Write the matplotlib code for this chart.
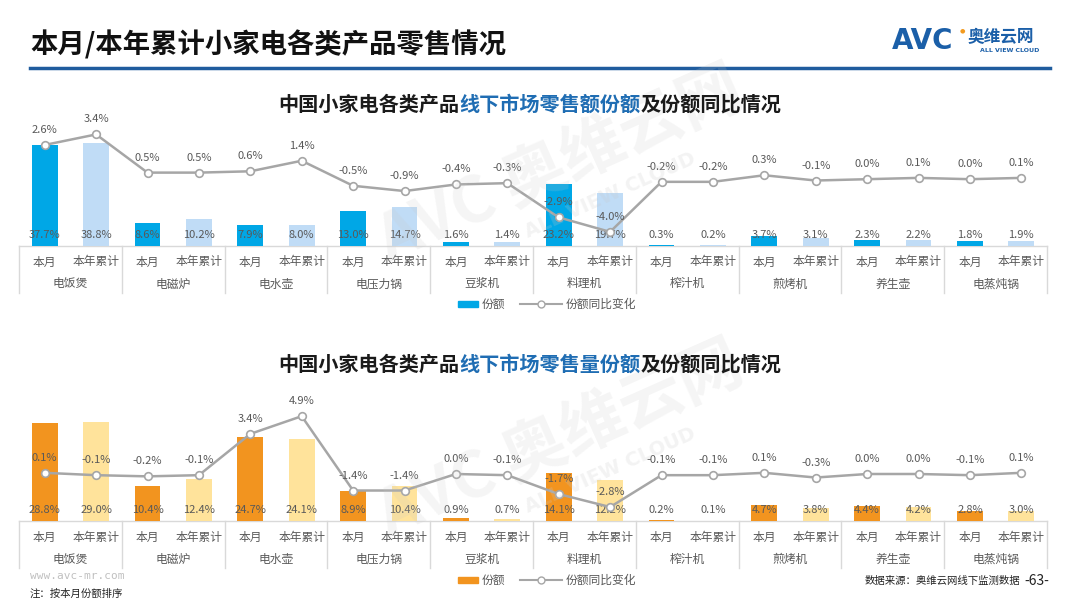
import matplotlib
matplotlib.use('Agg')
import matplotlib.pyplot as plt
from matplotlib.patches import Rectangle
from matplotlib.lines import Line2D

plt.rcParams['font.family'] = ['Noto Sans CJK SC', 'DejaVu Sans']

groups = ['电饭煲', '电磁炉', '电水壶', '电压力锅', '豆浆机', '料理机', '榨汁机', '煎烤机', '养生壶', '电蒸炖锅']
periods = ['本月', '本年累计']

amt_month = [37.7, 8.6, 7.9, 13.0, 1.6, 23.2, 0.3, 3.7, 2.3, 1.8]
amt_ytd = [38.8, 10.2, 8.0, 14.7, 1.4, 19.7, 0.2, 3.1, 2.2, 1.9]
amt_yoy = [2.6, 3.4, 0.5, 0.5, 0.6, 1.4, -0.5, -0.9, -0.4, -0.3,
           -2.9, -4.0, -0.2, -0.2, 0.3, -0.1, 0.0, 0.1, 0.0, 0.1]

vol_month = [28.8, 10.4, 24.7, 8.9, 0.9, 14.1, 0.2, 4.7, 4.4, 2.8]
vol_ytd = [29.0, 12.4, 24.1, 10.4, 0.7, 12.2, 0.1, 3.8, 4.2, 3.0]
vol_yoy = [0.1, -0.1, -0.2, -0.1, 3.4, 4.9, -1.4, -1.4, 0.0, -0.1,
           -1.7, -2.8, -0.1, -0.1, 0.1, -0.3, 0.0, 0.0, -0.1, 0.1]

W, H = 1080, 608
fig = plt.figure(figsize=(W / 100, H / 100), dpi=100)


def fx(x):
    return x / W


def fy(y):
    return 1 - y / H


TXT = '#595959'
GRID = '#d9d9d9'
LINEC = '#a6a6a6'
L, R = 19, 1047


def panel(base, height, bar_max, line_lo, line_hi, month, ytd, yoy, c1, c2):
    ax = fig.add_axes([fx(L), fy(base), (R - L) / W, height / H])
    ax2 = ax.twinx()
    n = len(groups)
    xs = list(range(2 * n))
    x_m = [2 * i for i in range(n)]
    x_y = [2 * i + 1 for i in range(n)]
    ax.bar(x_m, month, width=0.5, color=c1, zorder=2)
    ax.bar(x_y, ytd, width=0.5, color=c2, zorder=2)
    ax.set_xlim(-0.5, 2 * n - 0.5)
    ax.set_ylim(0, bar_max)
    ax2.set_ylim(line_lo, line_hi)
    for a in (ax, ax2):
        a.set_xticks([])
        a.set_yticks([])
        for s in a.spines.values():
            s.set_visible(False)
        a.patch.set_visible(False)
    trans = ax.get_xaxis_transform()
    ax.plot([-0.5, 2 * n - 0.5], [0, 0], color=GRID, lw=1, clip_on=False, zorder=1)
    for k in range(n + 1):
        ax.plot([2 * k - 0.5] * 2, [0, -47 / height], transform=trans,
                color=GRID, lw=1, clip_on=False)
    for i in xs:
        ax.text(i, -16 / height, periods[i % 2], transform=trans, ha='center',
                va='center', fontsize=8.5, color=TXT)
    for g, name in enumerate(groups):
        ax.text(2 * g + 0.5, -38 / height, name, transform=trans, ha='center',
                va='center', fontsize=8.5, color=TXT)
    for i, v in zip(x_m, month):
        ax.text(i, 11 / height, f'{v:.1f}%', transform=trans, ha='center',
                va='center', fontsize=8, color=TXT, zorder=4)
    for i, v in zip(x_y, ytd):
        ax.text(i, 11 / height, f'{v:.1f}%', transform=trans, ha='center',
                va='center', fontsize=8, color=TXT, zorder=4)
    ax2.plot(xs, yoy, color=LINEC, lw=1.8, marker='o', ms=5.5, mfc='white',
             mec=LINEC, mew=1.2, zorder=3)
    for i, v in zip(xs, yoy):
        ax2.annotate(f'{v:.1f}%', (i, v), xytext=(0, 15), textcoords='offset pixels',
                     ha='center', va='center', fontsize=8, color=TXT)
    return ax


def title(y, parts, fs=14.5, cx=530):
    w = fs * 100 / 72
    total = sum(len(t) for t, _ in parts)
    x = cx - total * w / 2
    for t, c in parts:
        fig.text(fx(x), fy(y), t, fontsize=fs, fontweight='bold', color=c,
                 ha='left', va='center')
        x += len(t) * w


def legend(y, c1):
    fig.patches.append(Rectangle((fx(458), fy(y + 3)), 20 / W, 6 / H, color=c1,
                                 transform=fig.transFigure, figure=fig))
    fig.text(fx(482), fy(y), '份额', fontsize=8.5, color=TXT, ha='left', va='center')
    fig.lines.append(Line2D([fx(520), fx(562)], [fy(y), fy(y)], color=LINEC, lw=1.5,
                            transform=fig.transFigure, figure=fig))
    fig.lines.append(Line2D([fx(541)], [fy(y)], color=LINEC, marker='o', ms=5,
                            mfc='white', mec=LINEC, transform=fig.transFigure, figure=fig))
    fig.text(fx(566), fy(y), '份额同比变化', fontsize=8.5, color=TXT, ha='left', va='center')


BLUE_T = '#1f6db3'
# header
fig.text(fx(30), fy(45), '本月/本年累计小家电各类产品零售情况', fontsize=19.7,
         fontweight='bold', color='#111111', ha='left', va='center')
fig.lines.append(Line2D([fx(30), fx(1050)], [fy(68), fy(68)], color='#1f5c9e', lw=2.5,
                        transform=fig.transFigure, figure=fig))
fig.text(fx(892), fy(41), 'AVC', fontsize=20, fontweight='bold', color='#1b5fa8',
         ha='left', va='center', family=['DejaVu Sans'])
fig.text(fx(962), fy(31), '●', fontsize=4.5, color='#f39a1e', ha='center', va='center',
         family=['DejaVu Sans'])
fig.text(fx(968), fy(37), '奥维云网', fontsize=12, fontweight='bold', color='#1b5fa8',
         ha='left', va='center')
fig.text(fx(1010), fy(50), 'ALL VIEW CLOUD', fontsize=4.5, fontweight='bold',
         color='#1b5fa8', ha='center', va='center', family=['DejaVu Sans'])

# watermarks
for (wx, wy) in [(560, 165), (560, 440)]:
    fig.text(fx(wx), fy(wy), 'AVC 奥维云网', fontsize=46, fontweight='bold',
             color='#c8c8c8', alpha=0.18, rotation=24, ha='center', va='center')
    fig.text(fx(wx + 50), fy(wy + 30), 'ALL VIEW CLOUD', fontsize=14, fontweight='bold',
             color='#c8c8c8', alpha=0.22, rotation=24, ha='center', va='center',
             family=['DejaVu Sans'])

# top chart
title(104, [('中国小家电各类产品', '#1a1a1a'), ('线下市场零售额份额', BLUE_T),
            ('及份额同比情况', '#1a1a1a')])
panel(246, 120, 120 / 2.667, (179.2 - 246) / 13.17, (179.2 - 126) / 13.17,
      amt_month, amt_ytd, amt_yoy, '#00a7e6', '#c0dcf6')
legend(304, '#00a7e6')

# bottom chart
title(364, [('中国小家电各类产品', '#1a1a1a'), ('线下市场零售量份额', BLUE_T),
            ('及份额同比情况', '#1a1a1a')])
panel(521, 120, 120 / 3.4, (474 - 521) / 11.8, (474 - 401) / 11.8,
      vol_month, vol_ytd, vol_yoy, '#f2941f', '#ffe39b')
legend(580, '#f2941f')

# footer
fig.text(fx(30), fy(576), 'www.avc-mr.com', fontsize=8, color='#c0c0c0',
         ha='left', va='center', family=['DejaVu Sans Mono'])
fig.text(fx(30), fy(594), '注：按本月份额排序', fontsize=7.5, color='#222222',
         ha='left', va='center')
fig.text(fx(1020), fy(581), '数据来源：奥维云网线下监测数据', fontsize=7.5,
         color='#222222', ha='right', va='center')
fig.text(fx(1024), fy(581), '-63-', fontsize=10, color='#222222', ha='left', va='center')

fig.savefig('out.png', dpi=100)
